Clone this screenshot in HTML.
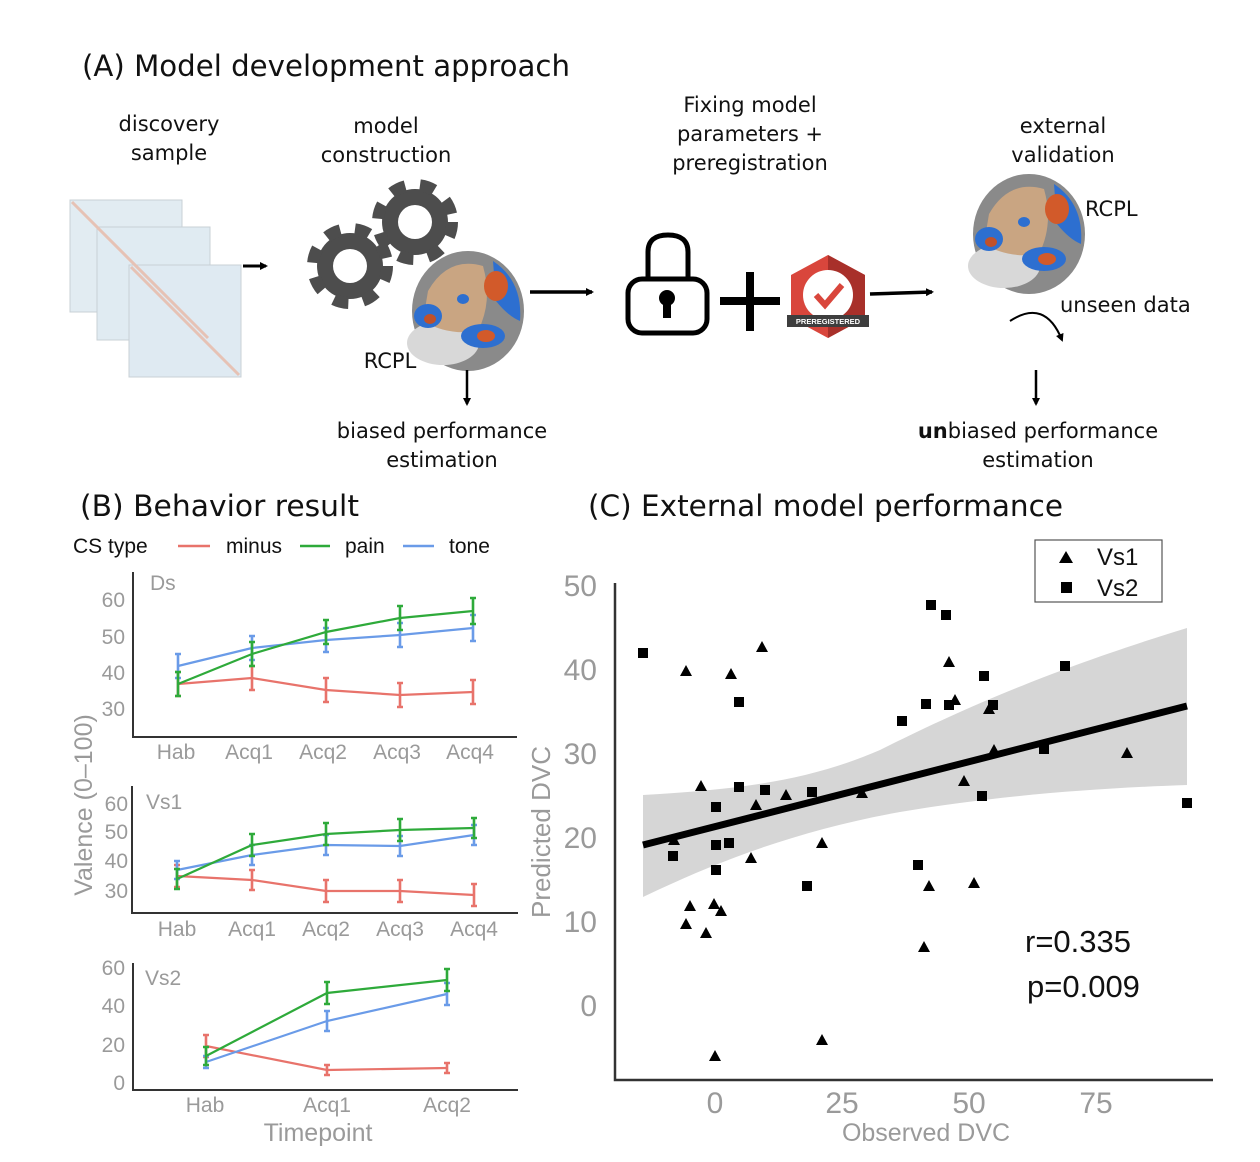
<!DOCTYPE html>
<html><head><meta charset="utf-8"><style>
html,body{margin:0;padding:0;background:#fff;}
svg{display:block;}
.h{font-family:"DejaVu Sans","Liberation Sans",sans-serif;fill:#111;}
.a{font-family:"Liberation Sans",Arial,sans-serif;}
</style></head><body>
<svg width="1260" height="1162" viewBox="0 0 1260 1162" xmlns="http://www.w3.org/2000/svg">
<defs>
<marker id="ah" markerWidth="8" markerHeight="8" refX="6" refY="4" orient="auto" markerUnits="userSpaceOnUse"><path d="M0,0 L8,4 L0,8z" fill="#000"/></marker>
<g id="brain">
<ellipse cx="0" cy="0" rx="56" ry="60" fill="#8a8a8a"/>
<ellipse cx="-25" cy="32" rx="36" ry="22" fill="#d8d8d8"/>
<path d="M-40,-20 Q-20,-55 15,-45 Q25,-10 10,20 Q-20,25 -45,10z" fill="#c9a582"/>
<path d="M25,-50 Q55,-30 52,10 Q40,5 28,-10z" fill="#2d6fd0"/>
<ellipse cx="28" cy="-25" rx="12" ry="15" fill="#d25a2a"/>
<ellipse cx="-40" cy="5" rx="14" ry="12" fill="#2d6fd0"/>
<ellipse cx="-38" cy="8" rx="6" ry="5" fill="#c0512a"/>
<ellipse cx="15" cy="25" rx="22" ry="12" fill="#2d6fd0"/>
<ellipse cx="18" cy="25" rx="9" ry="6" fill="#d25a2a"/>
<ellipse cx="-5" cy="-12" rx="6" ry="5" fill="#2d6fd0"/>
</g>
<g id="gear">
<circle r="33" fill="#4d4d4d"/>
<circle r="37" fill="none" stroke="#4d4d4d" stroke-width="12" stroke-dasharray="15 14.85"/>
<circle r="17" fill="#fff"/>
</g>
</defs>

<!-- Panel A -->
<text class="h" x="82" y="76" font-size="29" textLength="488" lengthAdjust="spacingAndGlyphs">(A) Model development approach</text>
<g class="h" font-size="21" text-anchor="middle">
<text x="169" y="131">discovery</text><text x="169" y="160">sample</text>
<text x="386" y="133">model</text><text x="386" y="162">construction</text>
<text x="750" y="112">Fixing model</text><text x="750" y="141">parameters +</text><text x="750" y="170">preregistration</text>
<text x="1063" y="133">external</text><text x="1063" y="162">validation</text>
<text x="390" y="368">RCPL</text>
<text x="442" y="438">biased performance</text><text x="442" y="467">estimation</text>
<text x="1038" y="438"><tspan font-weight="bold">un</tspan>biased performance</text><text x="1038" y="467">estimation</text>
</g>
<text class="h" x="1085" y="216" font-size="21">RCPL</text>
<text class="h" x="1060" y="312" font-size="21">unseen data</text>

<!-- matrices -->
<g stroke="#c8d0d6" stroke-width="1">
<rect x="70" y="200" width="112" height="112" fill="#e2ecf2"/>
<rect x="97" y="227" width="113" height="113" fill="#e0ebf2"/>
<rect x="129" y="265" width="112" height="112" fill="#dfeaf2"/>
</g>
<path d="M72,202 L180,310 M99,229 L208,338 M131,267 L239,375" stroke="#e6c2b5" stroke-width="3"/>
<path d="M243,266 H266" stroke="#000" stroke-width="3" marker-end="url(#ah)"/>

<use href="#gear" x="350" y="266"/>
<use href="#gear" x="415" y="222"/>
<use href="#brain" x="468" y="311"/>
<path d="M530,292 H592" stroke="#000" stroke-width="3.5" marker-end="url(#ah)"/>

<!-- lock -->
<path d="M648,280 V252 Q648,235 668,235 Q688,235 688,252 V280" fill="none" stroke="#000" stroke-width="5"/>
<rect x="628" y="279" width="79" height="54" rx="14" fill="#fff" stroke="#000" stroke-width="5"/>
<circle cx="667" cy="298" r="8" fill="#000"/>
<rect x="663" y="298" width="8" height="20" fill="#000"/>
<path d="M720,301 H780 M750,272 V331" stroke="#000" stroke-width="8"/>
<!-- badge -->
<path d="M828,255 L865,275 L865,318 L828,338 L791,318 L791,275z" fill="#d9463c"/>
<path d="M828,255 L865,275 L865,318 L828,338z" fill="#a8302a"/>
<circle cx="828" cy="295" r="25" fill="#fff"/>
<path d="M816,295 L825,305 L842,285" fill="none" stroke="#d9463c" stroke-width="6"/>
<rect x="787" y="315" width="82" height="12" fill="#3e3e3e"/>
<text x="828" y="324" font-family="Liberation Sans,sans-serif" font-size="7.5" font-weight="bold" fill="#fff" text-anchor="middle">PREREGISTERED</text>
<path d="M870,294 L932,292" stroke="#000" stroke-width="3.5" marker-end="url(#ah)"/>

<use href="#brain" x="1029" y="234"/>
<path d="M467,370 V404" stroke="#000" stroke-width="2.5" marker-end="url(#ah)"/>
<path d="M1036,370 V404" stroke="#000" stroke-width="2.5" marker-end="url(#ah)"/>
<path d="M1010,321 Q1045,298 1062,340" fill="none" stroke="#000" stroke-width="2" marker-end="url(#ah)"/>

<!-- Panel B -->
<text class="h" x="80" y="516" font-size="29" textLength="279" lengthAdjust="spacingAndGlyphs">(B) Behavior result</text>
<g class="a" font-size="21" fill="#111">
<text x="73" y="553">CS type</text>
<text x="226" y="553">minus</text><text x="345" y="553">pain</text><text x="449" y="553">tone</text>
</g>
<path d="M178,546 H210" stroke="#e8736b" stroke-width="2.5"/>
<path d="M300,546 H330" stroke="#2eaa3a" stroke-width="2.5"/>
<path d="M403,546 H434" stroke="#6a9be8" stroke-width="2.5"/>

<g stroke="#333" stroke-width="2" fill="none">
<path d="M133,572 V737 H517"/>
<path d="M132,786 V913 H518"/>
<path d="M133,963 V1090 H518"/>
</g>
<g class="a" font-size="21" fill="#9a9a9a">
<text x="150" y="590">Ds</text>
<text x="146" y="809">Vs1</text>
<text x="145" y="985">Vs2</text>
<g text-anchor="end">
<text x="125" y="607">60</text><text x="125" y="644">50</text><text x="125" y="680">40</text><text x="125" y="716">30</text>
<text x="128" y="811">60</text><text x="128" y="839">50</text><text x="128" y="868">40</text><text x="128" y="898">30</text>
<text x="125" y="975">60</text><text x="125" y="1013">40</text><text x="125" y="1052">20</text><text x="125" y="1090">0</text>
</g>
<g text-anchor="middle">
<text x="176" y="759">Hab</text><text x="249" y="759">Acq1</text><text x="323" y="759">Acq2</text><text x="397" y="759">Acq3</text><text x="470" y="759">Acq4</text>
<text x="177" y="936">Hab</text><text x="252" y="936">Acq1</text><text x="326" y="936">Acq2</text><text x="400" y="936">Acq3</text><text x="474" y="936">Acq4</text>
<text x="205" y="1112">Hab</text><text x="327" y="1112">Acq1</text><text x="447" y="1112">Acq2</text>
</g>
<text x="318" y="1141" font-size="25" text-anchor="middle">Timepoint</text>
<text transform="translate(92,805) rotate(-90)" font-size="25" text-anchor="middle">Valence (0–100)</text>
</g>

<g fill="none" stroke-width="2.2">
<g stroke="#e8736b"><path d="M178,684 L252,678 L326,690 L400,695 L473,692"/>
<path d="M178,672V696M175,672h6M175,696h6 M252,666V690M249,666h6M249,690h6 M326,678V702M323,678h6M323,702h6 M400,683V707M397,683h6M397,707h6 M473,680V704M470,680h6M470,704h6" stroke-width="2.6"/></g>
<g stroke="#6a9be8"><path d="M178,666 L252,648 L326,640 L400,635 L473,628"/>
<path d="M178,654V678M175,654h6M175,678h6 M252,636V660M249,636h6M249,660h6 M326,628V652M323,628h6M323,652h6 M400,623V647M397,623h6M397,647h6 M473,615V641M470,615h6M470,641h6" stroke-width="2.6"/></g>
<g stroke="#2eaa3a"><path d="M178,684 L252,654 L326,632 L400,618 L473,611"/>
<path d="M178,672V696M175,672h6M175,696h6 M252,642V666M249,642h6M249,666h6 M326,620V644M323,620h6M323,644h6 M400,606V630M397,606h6M397,630h6 M473,598V624M470,598h6M470,624h6" stroke-width="2.6"/></g>
<g stroke="#e8736b"><path d="M177,876 L252,880 L326,891 L400,891 L474,895"/>
<path d="M177,865V887M174,865h6M174,887h6 M252,870V890M249,870h6M249,890h6 M326,880V902M323,880h6M323,902h6 M400,880V902M397,880h6M397,902h6 M474,884V906M471,884h6M471,906h6" stroke-width="2.6"/></g>
<g stroke="#6a9be8"><path d="M177,870 L252,855 L326,845 L400,846 L474,835"/>
<path d="M177,861V879M174,861h6M174,879h6 M252,845V865M249,845h6M249,865h6 M326,835V855M323,835h6M323,855h6 M400,836V856M397,836h6M397,856h6 M474,825V845M471,825h6M471,845h6" stroke-width="2.6"/></g>
<g stroke="#2eaa3a"><path d="M177,879 L252,845 L326,834 L400,830 L474,828"/>
<path d="M177,869V889M174,869h6M174,889h6 M252,834V856M249,834h6M249,856h6 M326,823V845M323,823h6M323,845h6 M400,819V841M397,819h6M397,841h6 M474,818V838M471,818h6M471,838h6" stroke-width="2.6"/></g>
<g stroke="#e8736b"><path d="M206,1046 L327,1070 L447,1068"/>
<path d="M206,1035V1057M203,1035h6M203,1057h6 M327,1065V1075M324,1065h6M324,1075h6 M447,1063V1073M444,1063h6M444,1073h6" stroke-width="2.6"/></g>
<g stroke="#6a9be8"><path d="M206,1062 L327,1021 L447,994"/>
<path d="M206,1056V1068M203,1056h6M203,1068h6 M327,1011V1031M324,1011h6M324,1031h6 M447,983V1005M444,983h6M444,1005h6" stroke-width="2.6"/></g>
<g stroke="#2eaa3a"><path d="M206,1056 L327,993 L447,980"/>
<path d="M206,1047V1065M203,1047h6M203,1065h6 M327,982V1004M324,982h6M324,1004h6 M447,969V991M444,969h6M444,991h6" stroke-width="2.6"/></g>
</g>

<!-- Panel C -->
<text class="h" x="588" y="516" font-size="29" textLength="475" lengthAdjust="spacingAndGlyphs">(C) External model performance</text>
<path d="M643,795 C720,790 800,785 880,750 C960,710 1050,670 1187,628 L1187,785 C1100,788 1000,795 900,812 C800,830 720,860 643,897z" fill="#d6d6d6"/>
<path d="M615,583 V1080 H1213" fill="none" stroke="#333" stroke-width="2.5"/>
<g class="a" font-size="30" fill="#9a9a9a">
<g text-anchor="end"><text x="597" y="596">50</text><text x="597" y="680">40</text><text x="597" y="764">30</text><text x="597" y="848">20</text><text x="597" y="932">10</text><text x="597" y="1016">0</text></g>
<g text-anchor="middle"><text x="715" y="1113">0</text><text x="842" y="1113">25</text><text x="969" y="1113">50</text><text x="1096" y="1113">75</text></g>
<text x="926" y="1141" font-size="25" text-anchor="middle">Observed DVC</text>
<text transform="translate(550,832) rotate(-90)" font-size="26" text-anchor="middle">Predicted DVC</text>
</g>
<g fill="#000">
<g transform="translate(-5,-5)">
<rect x="643" y="653" width="10" height="10"/><rect x="739" y="702" width="10" height="10"/><rect x="902" y="721" width="10" height="10"/>
<rect x="931" y="605" width="10" height="10"/><rect x="946" y="615" width="10" height="10"/><rect x="984" y="676" width="10" height="10"/>
<rect x="926" y="704" width="10" height="10"/><rect x="949" y="705" width="10" height="10"/><rect x="993" y="705" width="10" height="10"/>
<rect x="1065" y="666" width="10" height="10"/><rect x="1187" y="803" width="10" height="10"/><rect x="716" y="807" width="10" height="10"/>
<rect x="716" y="845" width="10" height="10"/><rect x="729" y="843" width="10" height="10"/><rect x="765" y="790" width="10" height="10"/>
<rect x="739" y="787" width="10" height="10"/><rect x="812" y="792" width="10" height="10"/><rect x="673" y="856" width="10" height="10"/>
<rect x="716" y="870" width="10" height="10"/><rect x="807" y="886" width="10" height="10"/><rect x="918" y="865" width="10" height="10"/>
<rect x="982" y="796" width="10" height="10"/><rect x="1044" y="749" width="10" height="10"/>
</g>
<path d="M686,665l6,11h-12z M731,668l6,11h-12z M762,641l6,11h-12z M949,656l6,11h-12z M955,694l6,11h-12z M989,703l6,11h-12z
M994,744l6,11h-12z M1127,747l6,11h-12z M964,775l6,11h-12z M862,787l6,11h-12z M786,789l6,11h-12z M756,799l6,11h-12z
M701,780l6,11h-12z M674,834l6,11h-12z M822,837l6,11h-12z M751,852l6,11h-12z M690,900l6,11h-12z M686,918l6,11h-12z
M714,898l6,11h-12z M721,905l6,11h-12z M706,927l6,11h-12z M929,880l6,11h-12z M974,877l6,11h-12z M924,941l6,11h-12z
M822,1034l6,11h-12z M715,1050l6,11h-12z"/>
</g>
<path d="M643,845 L1187,706" stroke="#000" stroke-width="7"/>
<rect x="1035" y="540" width="127" height="62" fill="#fff" stroke="#555" stroke-width="1.2"/>
<path d="M1066,551l7,12h-14z" fill="#000"/><rect x="1061" y="582" width="11" height="11" fill="#000"/>
<g class="a" font-size="24" fill="#111"><text x="1097" y="565">Vs1</text><text x="1097" y="596">Vs2</text></g>
<g class="a" font-size="31" fill="#111"><text x="1025" y="952">r=0.335</text><text x="1027" y="997">p=0.009</text></g>
</svg>
</body></html>
